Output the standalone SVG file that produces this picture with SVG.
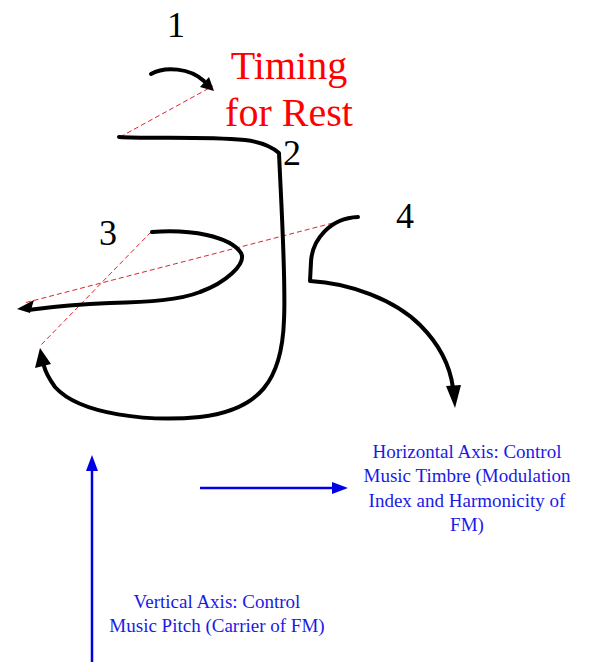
<svg xmlns="http://www.w3.org/2000/svg" width="610" height="662" viewBox="0 0 610 662">
<style>
.stroke{fill:none;stroke:#000;stroke-width:4;stroke-linecap:round;stroke-linejoin:round}
.head{fill:#000}
.guide{fill:none;stroke:#e8202a;stroke-width:1;stroke-dasharray:5,3}
.num{font-family:"Liberation Serif",serif;font-size:36px;fill:#000}
.red{font-family:"Liberation Serif",serif;font-size:40px;fill:#f00;text-anchor:middle}
.blue{font-family:"Liberation Serif",serif;font-size:19px;fill:#1a1ae6;text-anchor:middle}
.axis{fill:none;stroke:#0000e6;stroke-width:2.5}
.ahead{fill:#0000e6}
</style>
<rect width="610" height="662" fill="#fff"/>
<g id="connectors">
<path class="guide" d="M120,137 L213,86"/>
<path class="guide" d="M151,232 L40,346"/>
<path class="guide" d="M356,217 L24,303"/>
<path class="stroke" d="M151,74 C165,66 190,68 204,81"/>
<polygon class="head" points="214,91 200,87 209,77"/>
<path class="stroke" d="M119,137 C150,139 200,136 245,140 C262,142 272,147 279,153 C281,200 286,280 284,320 C282,380 260,410 200,417 C150,422 80,415 55,387 C50,380 46,374 44,366"/>
<polygon class="head" points="40,348 35,368 51,364"/>
<path class="stroke" d="M152,232 C190,229 230,236 241,253 C247,264 225,283 200,292 C180,300 150,302 110,303 C80,304 50,307 28,310"/>
<polygon class="head" points="17,309 34,300 30,313"/>
<path class="stroke" d="M358,217 C330,218 312,240 311,262 L310,281 C350,283 395,300 420,325 C440,345 450,365 453,388"/>
<polygon class="head" points="455,408 446,386 461,385"/>
<path class="axis" d="M92,662 L92,470"/>
<polygon class="ahead" points="92,455 86,471 98,471"/>
<path class="axis" d="M200,488 L333,488"/>
<polygon class="ahead" points="348,488 332,482 332,494"/>
</g>
<g id="n1"><text class="num" x="167" y="37">1</text></g>
<g id="n2"><text class="num" x="283" y="165">2</text></g>
<g id="n3"><text class="num" x="99" y="245">3</text></g>
<g id="n4"><text class="num" x="396" y="228">4</text></g>
<g id="timing"><text class="red" x="289" y="79">Timing</text><text class="red" x="289" y="126">for Rest</text></g>
<g id="horizontal"><text class="blue"><tspan x="467" y="458">Horizontal Axis: Control</tspan><tspan x="467" y="482">Music Timbre (Modulation</tspan><tspan x="467" y="507">Index and Harmonicity of</tspan><tspan x="467" y="531">FM)</tspan></text></g>
<g id="vertical"><text class="blue"><tspan x="217" y="608">Vertical Axis: Control</tspan><tspan x="217" y="632">Music Pitch (Carrier of FM)</tspan></text></g>
</svg>
